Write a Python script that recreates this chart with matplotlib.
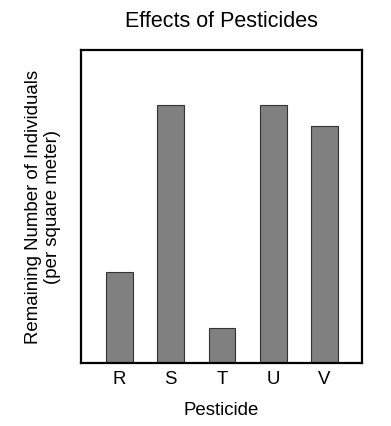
import matplotlib
matplotlib.use('Agg')
import matplotlib.pyplot as plt

# data
pesticides = ['R', 'S', 'T', 'U', 'V']
individuals = [26, 74, 10, 74, 68]
y_max = 90

plt.rcParams['font.family'] = ['Liberation Sans', 'DejaVu Sans']

fig = plt.figure(figsize=(3.91, 4.27), dpi=100)
ax = fig.add_axes([0.2064, 0.1475, 0.7194, 0.7338])

ax.bar(range(len(pesticides)), individuals, width=0.52, color='#808080',
       edgecolor='#333333', linewidth=0.8)

ax.set_xlim(-0.75, 4.73)
ax.set_ylim(0, y_max)
ax.set_xticks(range(len(pesticides)))
ax.set_xticklabels(pesticides, fontsize=13.4)
ax.set_yticks([])
ax.tick_params(axis='x', length=0, pad=5)

for s in ax.spines.values():
    s.set_linewidth(1.6)
    s.set_color('black')

ax.set_xlabel('Pesticide', fontsize=13.4, labelpad=10)
ax.set_ylabel('Remaining Number of Individuals\n(per square meter)', fontsize=13.4,
              labelpad=14, linespacing=1.2)
ax.set_title('Effects of Pesticides', fontsize=15.5, pad=17)

plt.savefig('out.png', dpi=100)
